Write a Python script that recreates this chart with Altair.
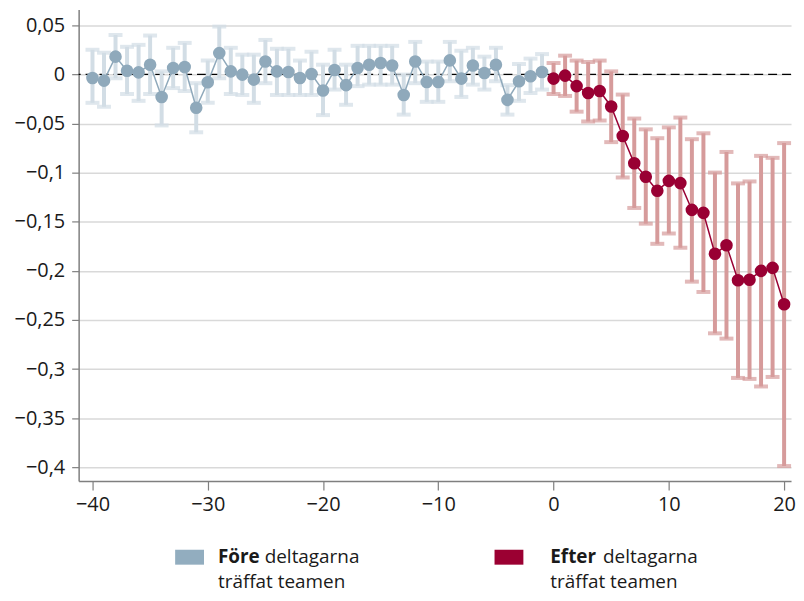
import altair as alt
import pandas as pd

# ---- data -------------------------------------------------------------
pre_x = list(range(-40, 0))
pre_est = [-0.0037, -0.0064, 0.018, 0.0037, 0.002, 0.0098, -0.023, 0.0064, 0.0074, -0.034,
           -0.0081, 0.0216, 0.003, -0.0003, -0.0054, 0.013, 0.003, 0.0024, -0.0037, 0.0003,
           -0.0165, 0.0044, -0.011, 0.0064, 0.0098, 0.0115, 0.009, -0.021, 0.013, -0.0078,
           -0.0078, 0.0142, -0.0044, 0.009, 0.0013, 0.0098, -0.026, -0.0071, -0.002, 0.0024]
pre_hi = [0.025, 0.022, 0.040, 0.028, 0.030, 0.0395, 0.003, 0.027, 0.032, -0.009,
          0.014, 0.0486, 0.027, 0.020, 0.020, 0.035, 0.026, 0.026, 0.014, 0.023,
          0.0098, 0.025, 0.0098, 0.029, 0.029, 0.029, 0.029, -0.0003, 0.033, 0.013,
          0.013, 0.033, 0.024, 0.027, 0.018, 0.027, -0.011, 0.0105, 0.016, 0.0206]
pre_lo = [-0.029, -0.033, -0.004, -0.020, -0.027, -0.020, -0.052, -0.014, -0.017, -0.059,
          -0.029, -0.004, -0.020, -0.021, -0.029, -0.009, -0.021, -0.021, -0.021, -0.021,
          -0.0415, -0.0155, -0.031, -0.012, -0.0105, -0.0105, -0.0105, -0.041, -0.009, -0.028,
          -0.028, -0.007, -0.023, -0.0105, -0.0155, -0.007, -0.041, -0.027, -0.019, -0.0155]

post_x = list(range(0, 21))
post_est = [-0.0044, -0.0013, -0.012, -0.019, -0.017, -0.0327, -0.0628, -0.0905, -0.1043, -0.1185,
            -0.1084, -0.1107, -0.138, -0.141, -0.1826, -0.174, -0.2096, -0.209, -0.200, -0.197, -0.234]
post_hi = [0.0115, 0.019, 0.014, 0.0125, 0.014, 0.003, -0.0206, -0.045, -0.056, -0.065,
           -0.054, -0.044, -0.066, -0.060, -0.100, -0.079, -0.111, -0.109, -0.083, -0.085, -0.070]
post_lo = [-0.020, -0.022, -0.038, -0.048, -0.047, -0.069, -0.105, -0.136, -0.152, -0.1725,
           -0.162, -0.1765, -0.211, -0.2215, -0.2636, -0.269, -0.309, -0.310, -0.3177, -0.308, -0.3987]

y_ticks = [0.05, 0, -0.05, -0.1, -0.15, -0.2, -0.25, -0.3, -0.35, -0.4]
x_ticks = [-40, -30, -20, -10, 0, 10, 20]

legend_bold = ["Före", "Efter"]
legend_rest = ["deltagarna", "deltagarna"]
legend_line2 = ["träffat teamen", "träffat teamen"]

# ---- styles -----------------------------------------------------------
FONT = "Open Sans"
BLUE_PT = "#8fa9bb"
BLUE_BAR = "#d2dde5"
RED_PT = "#990033"
RED_BAR = "#d69b9b"

pre = pd.DataFrame({"x": pre_x, "est": pre_est, "lo": pre_lo, "hi": pre_hi})
post = pd.DataFrame({"x": post_x, "est": post_est, "lo": post_lo, "hi": post_hi})

xscale = alt.Scale(domain=[-41.2, 20.6], nice=False, zero=False)
yscale = alt.Scale(domain=[-0.414, 0.066], nice=False, zero=False)

X = alt.X("x:Q", scale=xscale,
          axis=alt.Axis(values=x_ticks, title=None, grid=False, tickSize=9, labelPadding=5,
                        labelExpr="format(datum.value, 'd')"))
Y = alt.Y("est:Q", scale=yscale,
          axis=alt.Axis(values=y_ticks, title=None, grid=True, tickSize=7, labelPadding=7,
                        labelExpr="replace(format(datum.value, ''), '.', ',')"))


def series(df, bar_col, pt_col):
    base = alt.Chart(df)
    rule = base.mark_rule(color=bar_col, strokeWidth=4).encode(
        x=X, y=alt.Y("lo:Q", scale=yscale), y2="hi:Q")
    cap_lo = base.mark_tick(color=bar_col, orient="horizontal", size=14, thickness=4).encode(
        x=X, y=alt.Y("lo:Q", scale=yscale))
    cap_hi = base.mark_tick(color=bar_col, orient="horizontal", size=14, thickness=4).encode(
        x=X, y=alt.Y("hi:Q", scale=yscale))
    line = base.mark_line(color=pt_col, strokeWidth=1.5).encode(x=X, y=Y)
    pts = base.mark_circle(color=pt_col, size=160, opacity=1).encode(x=X, y=Y)
    return [rule, cap_lo, cap_hi, line, pts]


zero = alt.Chart(pd.DataFrame({"z": [0]})).mark_rule(
    color="black", strokeWidth=1.2, strokeDash=[9, 5]).encode(y=alt.Y("z:Q", scale=yscale))

# ---- legend (custom, two-line labels with bold first word) -------------
leg_df = pd.DataFrame({"b": legend_bold, "r": legend_rest, "l2": legend_line2})
legend_layers = []
for i, (sw_x, txt_x, rest_dx, col) in enumerate([(97, 140, 47, "#92adbf"), (418, 474, 53, "#9b0032")]):
    d = leg_df.iloc[[i]]
    c = alt.Chart(d)
    legend_layers.append(c.mark_rect(color=col).encode(
        x=alt.value(sw_x), x2=alt.value(sw_x + 29), y=alt.value(543), y2=alt.value(558)))
    legend_layers.append(c.mark_text(align="left", baseline="middle", font=FONT, fontSize=19,
                                     fontWeight="bold", color="#1a1a1a").encode(
        x=alt.value(txt_x), y=alt.value(550), text="b:N"))
    legend_layers.append(c.mark_text(align="left", baseline="middle", font=FONT, fontSize=19,
                                     color="#1a1a1a").encode(
        x=alt.value(txt_x + rest_dx), y=alt.value(550), text="r:N"))
    legend_layers.append(c.mark_text(align="left", baseline="middle", font=FONT, fontSize=19,
                                     color="#1a1a1a").encode(
        x=alt.value(txt_x), y=alt.value(575), text="l2:N"))

layers = [zero] + series(pre, BLUE_BAR, BLUE_PT) + series(post, RED_BAR, RED_PT) + legend_layers

chart = alt.layer(*layers).properties(
    width=716, height=474,
    padding={"left": 6, "top": 0, "right": 0, "bottom": 4},
).configure_view(stroke=None).configure_axis(
    labelFont=FONT, labelFontSize=20, labelColor="#1a1a1a",
    domainColor="#7f7f7f", domainWidth=1.5, tickColor="#7f7f7f", tickWidth=1.2,
    gridColor="#d9d9d9", gridWidth=1.5,
)

chart.save("out.html", embed_options={"renderer": "svg", "actions": False})
